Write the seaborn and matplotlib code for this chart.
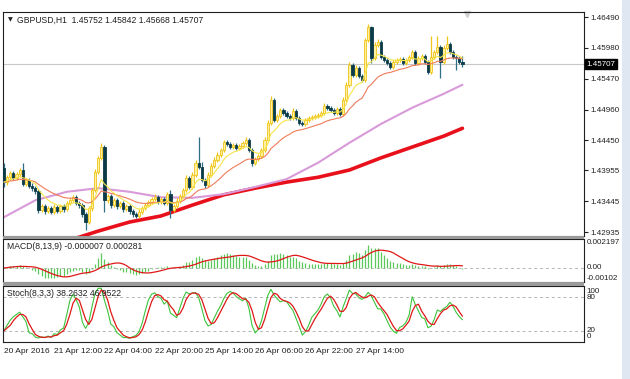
import numpy as np
import pandas as pd
import matplotlib
matplotlib.use("Agg")
import matplotlib.pyplot as plt
from matplotlib.patches import Rectangle
import seaborn as sns

# GBPUSD H1 candles
first_open = 1.4399
closes = [1.4376, 1.4384, 1.4391, 1.4383, 1.4389, 1.4396, 1.4373, 1.4379, 1.4370, 1.4366,
          1.4361, 1.4330, 1.4336, 1.4328, 1.4333, 1.4327, 1.4335, 1.4328, 1.4336, 1.4331,
          1.4341, 1.4346, 1.4351, 1.4341, 1.4338, 1.4323, 1.4310, 1.4333, 1.4363, 1.4393,
          1.4416, 1.4434, 1.4346, 1.4353, 1.4338, 1.4346, 1.4336, 1.4341, 1.4331, 1.4336,
          1.4328, 1.4323, 1.4320, 1.4327, 1.4333, 1.4338, 1.4343, 1.4348, 1.4351, 1.4343,
          1.4348, 1.4341, 1.4356, 1.4330, 1.4336, 1.4345, 1.4353, 1.4363, 1.4383, 1.4368,
          1.4388, 1.4408, 1.4401, 1.4379, 1.4371, 1.4388, 1.4403, 1.4413, 1.4421, 1.4429,
          1.4442, 1.4439, 1.4434, 1.4437, 1.4432, 1.4436, 1.4441, 1.4446, 1.4429, 1.4408,
          1.4414, 1.4419, 1.4429, 1.4446, 1.4474, 1.4512, 1.4479, 1.4485, 1.4495, 1.4490,
          1.4485, 1.4482, 1.4494, 1.4482, 1.4474, 1.4472, 1.4479, 1.4482, 1.4484, 1.4485,
          1.4487, 1.4490, 1.4502, 1.4499, 1.4495, 1.4490, 1.4497, 1.4489, 1.4512, 1.4537,
          1.4570, 1.4553, 1.4565, 1.4551, 1.4545, 1.4611, 1.4632, 1.4581, 1.4603, 1.4608,
          1.4583, 1.4578, 1.4573, 1.4566, 1.4575, 1.4578, 1.4580, 1.4573, 1.4578, 1.4583,
          1.4591, 1.4573, 1.4581, 1.4585, 1.4575, 1.4558, 1.4583, 1.4591, 1.4599, 1.4575,
          1.4598, 1.4604, 1.4591, 1.4583, 1.4581, 1.45752, 1.45707]
highs = [1.4408, 1.4388, 1.4395, 1.4395, 1.4393, 1.4400, 1.4408, 1.4383, 1.4382, 1.4374,
         1.4369, 1.4364, 1.4340, 1.4339, 1.4337, 1.4336, 1.4339, 1.4338, 1.4340, 1.4339,
         1.4345, 1.4350, 1.4355, 1.4354, 1.4344, 1.4341, 1.4326, 1.4337, 1.4367, 1.4397,
         1.4420, 1.4441, 1.4437, 1.4357, 1.4356, 1.4350, 1.4349, 1.4345, 1.4344, 1.4340,
         1.4339, 1.4331, 1.4326, 1.4331, 1.4337, 1.4342, 1.4347, 1.4352, 1.4356, 1.4354,
         1.4352, 1.4351, 1.4360, 1.4363, 1.4340, 1.4349, 1.4357, 1.4367, 1.4387, 1.4386,
         1.4392, 1.4412, 1.4451, 1.4410, 1.4382, 1.4392, 1.4407, 1.4417, 1.4425, 1.4433,
         1.4446, 1.4445, 1.4442, 1.4440, 1.4440, 1.4439, 1.4444, 1.4450, 1.4449, 1.4432,
         1.4418, 1.4423, 1.4433, 1.4450, 1.4478, 1.4518, 1.4515, 1.4489, 1.4499, 1.4498,
         1.4493, 1.4488, 1.4498, 1.4497, 1.4485, 1.4477, 1.4482, 1.4485, 1.4487, 1.4488,
         1.4490, 1.4493, 1.4506, 1.4505, 1.4502, 1.4498, 1.4500, 1.4500, 1.4516, 1.4541,
         1.4575, 1.4573, 1.4569, 1.4568, 1.4554, 1.4615, 1.4637, 1.4634, 1.4607, 1.4612,
         1.4611, 1.4586, 1.4581, 1.4576, 1.4578, 1.4581, 1.4583, 1.4583, 1.4581, 1.4586,
         1.4595, 1.4594, 1.4584, 1.4588, 1.4588, 1.4578, 1.4618, 1.4595, 1.4618, 1.4602,
         1.4602, 1.4617, 1.4607, 1.4594, 1.4586, 1.4584, 1.45842]
lows = [1.4368, 1.4372, 1.4380, 1.4379, 1.4379, 1.4385, 1.4370, 1.4369, 1.4366, 1.4362,
        1.4357, 1.4325, 1.4326, 1.4324, 1.4325, 1.4323, 1.4324, 1.4325, 1.4325, 1.4327,
        1.4328, 1.4338, 1.4343, 1.4338, 1.4334, 1.4319, 1.4297, 1.4306, 1.4329, 1.4359,
        1.4389, 1.4412, 1.4327, 1.4342, 1.4334, 1.4335, 1.4332, 1.4333, 1.4327, 1.4328,
        1.4324, 1.4319, 1.4316, 1.4317, 1.4324, 1.4330, 1.4335, 1.4340, 1.4345, 1.4340,
        1.4340, 1.4338, 1.4338, 1.4317, 1.4326, 1.4333, 1.4342, 1.4350, 1.4360, 1.4364,
        1.4365, 1.4385, 1.4398, 1.4376, 1.4366, 1.4368, 1.4385, 1.4400, 1.4410, 1.4418,
        1.4426, 1.4436, 1.4431, 1.4431, 1.4429, 1.4429, 1.4433, 1.4438, 1.4426, 1.4403,
        1.4405, 1.4411, 1.4416, 1.4426, 1.4443, 1.4471, 1.4476, 1.4476, 1.4482, 1.4487,
        1.4482, 1.4479, 1.4479, 1.4479, 1.4471, 1.4469, 1.4469, 1.4476, 1.4479, 1.4481,
        1.4482, 1.4484, 1.4487, 1.4496, 1.4492, 1.4487, 1.4487, 1.4486, 1.4486, 1.4509,
        1.4534, 1.4550, 1.4550, 1.4548, 1.4542, 1.4542, 1.4608, 1.4573, 1.4578, 1.4600,
        1.4580, 1.4575, 1.4570, 1.4563, 1.4563, 1.4572, 1.4575, 1.4570, 1.4570, 1.4575,
        1.4580, 1.4570, 1.4570, 1.4578, 1.4572, 1.4555, 1.4555, 1.4580, 1.4588, 1.4548,
        1.4572, 1.4595, 1.4588, 1.4580, 1.4561, 1.4572, 1.45668]

ma55_bar = [0, 10, 20, 30, 40, 50, 60, 70, 80, 90, 100, 110, 120, 130, 140, 146]
ma55_val = [1.4318, 1.4346, 1.4360, 1.4366, 1.4360, 1.4351, 1.4350, 1.4356, 1.4368, 1.4381,
            1.4408, 1.4441, 1.4472, 1.4499, 1.4522, 1.4537]
ma200_bar = [20, 24, 30, 40, 50, 60, 70, 80, 90, 100, 110, 120, 130, 140, 146]
ma200_val = [1.4279, 1.4285, 1.4295, 1.4310, 1.4320, 1.4338, 1.4355, 1.4366, 1.4376, 1.4384,
             1.4396, 1.4416, 1.4434, 1.4452, 1.4465]

price_ticks = [1.46490, 1.45980, 1.45470, 1.44960, 1.44450, 1.43955, 1.43445, 1.42935]
time_ticks = [0, 16, 32, 48, 64, 80, 96, 112]
time_labels = ["20 Apr 2016", "21 Apr 12:00", "22 Apr 04:00", "22 Apr 20:00",
               "25 Apr 14:00", "26 Apr 06:00", "26 Apr 22:00", "27 Apr 14:00"]
last_price = 1.45707

sns.set_theme(style="white")
plt.rcParams['font.family'] = ['Liberation Sans', 'DejaVu Sans']

df = pd.DataFrame({'close': closes, 'high': highs, 'low': lows})
df['open'] = [first_open] + closes[:-1]
df['bar'] = np.arange(len(df))
df['ema8'] = df['close'].ewm(span=8, adjust=False).mean()
df['ema21'] = df['close'].ewm(span=21, adjust=False).mean()
df['macd'] = df['close'].ewm(span=8, adjust=False).mean() - df['close'].ewm(span=13, adjust=False).mean()
df['signal'] = df['macd'].rolling(9, min_periods=1).mean()
ll = df['low'].rolling(8, min_periods=1).min()
hh = df['high'].rolling(8, min_periods=1).max()
df['k'] = (df['close'] - ll).rolling(3, min_periods=1).sum() / (hh - ll).rolling(3, min_periods=1).sum() * 100
df['d'] = df['k'].rolling(3, min_periods=1).mean()

W, H = 630, 379
fig = plt.figure(figsize=(W / 100, H / 100), dpi=100)
fig.patch.set_facecolor('white')

def rect(top, bottom):
    return [3 / W, (H - bottom) / H, 581 / W, (bottom - top) / H]

ax = fig.add_axes(rect(12, 236))
ax_m = fig.add_axes(rect(239, 282), sharex=ax)
ax_s = fig.add_axes(rect(286, 342), sharex=ax)

xlim = (-0.3, 184.7)
fs = 6.2

# --- main price panel ---
ax.axhline(last_price, color='#c8c8c8', lw=0.8, zorder=1)
bull = df['close'] >= df['open']
ax.vlines(df['bar'][bull], df['low'][bull], df['high'][bull], color='#f0c419', lw=0.9, zorder=3)
ax.vlines(df['bar'][~bull], df['low'][~bull], df['high'][~bull], color='#2f6f86', lw=0.9, zorder=3)
ax.bar(df['bar'][bull], (df['close'] - df['open'])[bull], bottom=df['open'][bull], width=0.72,
       color='#fff1a0', edgecolor='#f0c419', lw=0.6, zorder=4)
ax.bar(df['bar'][~bull], (df['close'] - df['open'])[~bull], bottom=df['open'][~bull], width=0.72,
       color='#0c3b48', edgecolor='#0c3b48', lw=0.6, zorder=4)

sns.lineplot(x=ma200_bar, y=ma200_val, ax=ax, color='#e8101a', lw=2.6, zorder=2)
sns.lineplot(x=ma55_bar, y=ma55_val, ax=ax, color='#d89ad8', lw=1.5, zorder=2)
sns.lineplot(data=df, x='bar', y='ema21', ax=ax, color='#f07a5a', lw=0.8, zorder=5)
sns.lineplot(data=df, x='bar', y='ema8', ax=ax, color='#f5e44a', lw=0.8, zorder=5)

ax.set_xlim(*xlim)
ax.set_ylim(1.42869, 1.46573)
ax.yaxis.tick_right()
ax.set_yticks(price_ticks)
ax.set_yticklabels([f"{p:.5f}" for p in price_ticks])
ax.text(0.009, 0.965, "\u25bc", transform=ax.transAxes, fontsize=4.5, color='#202020',
        va='center', family='DejaVu Sans')
ax.text(0.024, 0.965, "GBPUSD,H1  1.45752 1.45842 1.45668 1.45707", transform=ax.transAxes,
        fontsize=fs, color='#202020', va='center')
ax.text(1.004, last_price, "1.45707", transform=ax.get_yaxis_transform(), fontsize=5.8,
        color='white', va='center', ha='left',
        bbox=dict(boxstyle='square,pad=0.2', fc='black', ec='black'))
ax.plot([0.799], [0.992], marker='v', ms=5, color='#cfcfcf', transform=ax.transAxes, clip_on=False)

# --- MACD panel ---
ax_m.axhline(0, color='#b4b4b4', lw=0.7, ls=(0, (3, 3)))
ax_m.vlines(df['bar'], 0, df['macd'], color='#5cc85c', lw=0.9)
sns.lineplot(data=df, x='bar', y='signal', ax=ax_m, color='#e01818', lw=0.9)
ax_m.set_ylim(-0.00118, 0.00245)
ax_m.set_yticks([])
ax_m.text(0.007, 0.83, "MACD(8,13,9) -0.000007 0.000281", transform=ax_m.transAxes,
          fontsize=fs, color='#202020', va='center')
for val, lab in [(0.00218, "0.002197"), (0.00002, "0.00"), (-0.00088, "-0.00102")]:
    ax_m.text(1.005, val, lab, transform=ax_m.get_yaxis_transform(), fontsize=5.8,
              color='#202020', va='center', ha='left')

# --- Stochastic panel ---
for lvl in (20, 80):
    ax_s.axhline(lvl, color='#b4b4b4', lw=0.7, ls=(0, (3, 3)))
sns.lineplot(data=df, x='bar', y='k', ax=ax_s, color='#3cc43c', lw=0.8)
sns.lineplot(data=df, x='bar', y='d', ax=ax_s, color='#e01818', lw=0.9)
ax_s.set_ylim(0, 100)
ax_s.set_yticks([])
ax_s.text(0.007, 0.86, "Stoch(8,3,3) 38.2632 46.9522", transform=ax_s.transAxes,
          fontsize=fs, color='#202020', va='center')
for val, lab in [(91, "100"), (80, "80"), (20, "20"), (9, "0")]:
    ax_s.text(1.005, val, lab, transform=ax_s.get_yaxis_transform(), fontsize=5.8,
              color='#202020', va='center', ha='left')

ax_s.set_xticks(time_ticks)
ax_s.set_xticklabels(time_labels, ha='left', fontsize=6)
ax_s.tick_params(axis='x', direction='out', length=3, width=0.8, pad=1.5, colors='#202020')

for a in (ax, ax_m, ax_s):
    a.set_xlabel('')
    a.set_ylabel('')
    for sp in a.spines.values():
        sp.set_color('#202020')
        sp.set_linewidth(0.8)
for a in (ax, ax_m):
    a.tick_params(axis='x', length=0, labelbottom=False)
ax.tick_params(axis='y', direction='out', length=3, width=0.8, pad=1.5, labelsize=5.8,
               colors='#202020')

# grey splitters between sub-windows
for top, bottom in [(236, 238.5), (282.2, 285.5)]:
    fig.patches.append(Rectangle((3 / W, (H - bottom) / H), 581 / W, (bottom - top) / H,
                                 transform=fig.transFigure, fc='#9a9a9a', ec='none'))
# window border strip on the right
fig.patches.append(Rectangle((622 / W, 0), 8 / W, 1, transform=fig.transFigure,
                             fc='#dfe8f2', ec='none'))

fig.savefig('out.png', dpi=100)
